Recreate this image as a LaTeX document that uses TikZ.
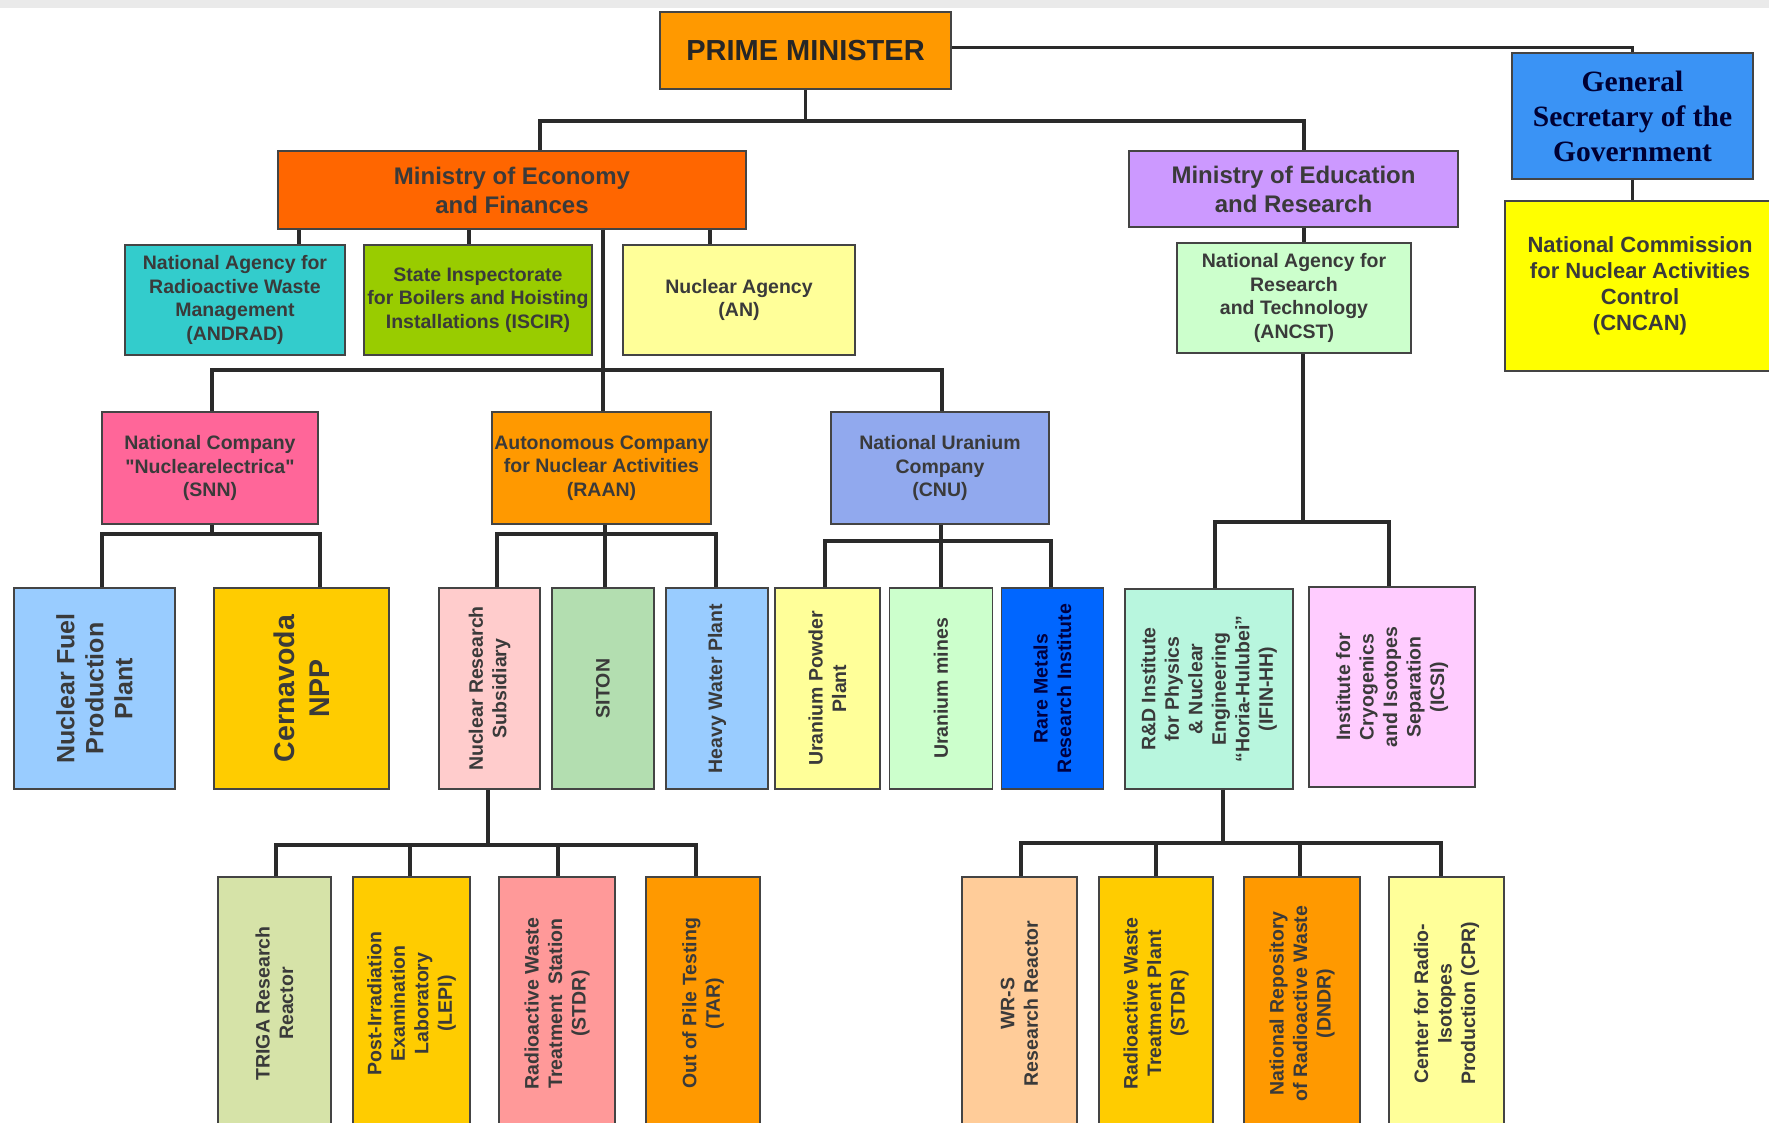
\documentclass[tikz,border=0pt]{standalone}
\usepackage{fontspec}
\setmainfont{Liberation Sans}
\newfontfamily\gsfont{Liberation Serif}
\newfontfamily\nqfont{Liberation Sans}[Ligatures=TeXOff]
\newcommand{\sq}{{\nqfont"}}
\definecolor{bordc}{HTML}{444444}
\definecolor{linec}{HTML}{2A2A2A}
\definecolor{txtc}{HTML}{3A3A3A}
\definecolor{stripc}{HTML}{EAEAEA}
\definecolor{cPM}{HTML}{FF9900}
\definecolor{cME}{HTML}{FF6600}
\definecolor{cMED}{HTML}{CC99FF}
\definecolor{cGS}{HTML}{3A93F5}
\definecolor{cCNCAN}{HTML}{FFFF00}
\definecolor{cANDRAD}{HTML}{33CCCC}
\definecolor{cISCIR}{HTML}{99CC00}
\definecolor{cAN}{HTML}{FFFF99}
\definecolor{cANCST}{HTML}{CCFFCC}
\definecolor{cSNN}{HTML}{FF6699}
\definecolor{cRAAN}{HTML}{FF9900}
\definecolor{cCNU}{HTML}{91A9EE}
\definecolor{cNFPP}{HTML}{99CCFF}
\definecolor{cCERN}{HTML}{FFCC00}
\definecolor{cNRS}{HTML}{FFCCCC}
\definecolor{cSITON}{HTML}{B3DEB0}
\definecolor{cHWP}{HTML}{99CCFF}
\definecolor{cUPP}{HTML}{FFFF99}
\definecolor{cUM}{HTML}{CCFFCC}
\definecolor{cRM}{HTML}{0066FF}
\definecolor{cIFIN}{HTML}{B8F6DE}
\definecolor{cICSI}{HTML}{FFCCFF}
\definecolor{cTRIGA}{HTML}{D6E3A8}
\definecolor{cLEPI}{HTML}{FFCC00}
\definecolor{cSTDR}{HTML}{FF9999}
\definecolor{cTAR}{HTML}{FF9900}
\definecolor{cWRS}{HTML}{FFCC99}
\definecolor{cSTDRb}{HTML}{FFCC00}
\definecolor{cDNDR}{HTML}{FF9900}
\definecolor{cCPR}{HTML}{FFFF99}
\begin{document}
\begin{tikzpicture}[x=1pt,y=-1pt,
  box/.style={draw=bordc, line width=1.6pt, inner sep=0pt, align=center, text=txtc,
    font=\bfseries\fontsize{19.5}{23.5}\selectfont},
  vbox/.style={box, rotate=90},
  conn/.style={draw=linec, line width=3.4pt, line join=miter}]
\useasboundingbox (0,0) rectangle (1769,1123);
\fill[white] (0,0) rectangle (1769,1123);
\fill[stripc] (0,0) rectangle (1769,8);

% level 0/1
\node[box, fill=cPM, minimum width=291pt, minimum height=77pt, text=black!85,
  font=\bfseries\fontsize{29}{34}\selectfont] (PM) at (805.5,50.5) {PRIME MINISTER};
\node[box, fill=cGS, minimum width=241pt, minimum height=126pt, text=black!80!blue,
  font=\gsfont\bfseries\fontsize{29.5}{35}\selectfont] (GS) at (1632.5,116) {General\\Secretary of the\\Government};
\node[box, fill=cCNCAN, minimum width=270pt, minimum height=170pt,
  font=\bfseries\fontsize{22}{26}\selectfont] (CNCAN) at (1640,286) {National Commission\\for Nuclear Activities\\Control\\(CNCAN)};
\node[box, fill=cME, minimum width=468pt, minimum height=78pt,
  font=\bfseries\fontsize{24}{29}\selectfont] (ME) at (512,190) {Ministry of Economy\\and Finances};
\node[box, fill=cMED, minimum width=329pt, minimum height=76pt,
  font=\bfseries\fontsize{24}{29}\selectfont] (MED) at (1293.5,189) {Ministry of Education\\and Research};

% level 2
\node[box, fill=cANDRAD, minimum width=220pt, minimum height=110pt] (ANDRAD) at (235,300) {National Agency for\\Radioactive Waste\\Management\\(ANDRAD)};
\node[box, fill=cISCIR, minimum width=228pt, minimum height=110pt] (ISCIR) at (478,300) {State Inspectorate\\for Boilers and Hoisting\\Installations (ISCIR)};
\node[box, fill=cAN, minimum width=232pt, minimum height=110pt] (AN) at (739,300) {Nuclear Agency\\(AN)};
\node[box, fill=cANCST, minimum width=234pt, minimum height=110pt] (ANCST) at (1294,298) {National Agency for\\Research\\and Technology\\(ANCST)};

% level 3
\node[box, fill=cSNN, minimum width=216pt, minimum height=112pt] (SNN) at (210,468) {National Company\\\sq Nuclearelectrica\sq\\(SNN)};
\node[box, fill=cRAAN, minimum width=219pt, minimum height=112pt] (RAAN) at (601.5,468) {Autonomous Company\\for Nuclear Activities\\(RAAN)};
\node[box, fill=cCNU, minimum width=218pt, minimum height=112pt] (CNU) at (940,468) {National Uranium\\Company\\(CNU)};

% level 4 (vertical text)
\node[vbox, fill=cNFPP, minimum width=201pt, minimum height=161pt,
  font=\bfseries\fontsize{25}{29}\selectfont] (NFPP) at (94.5,688.5) {Nuclear Fuel\\Production\\Plant};
\node[vbox, fill=cCERN, minimum width=201pt, minimum height=175pt,
  font=\bfseries\fontsize{28.5}{35}\selectfont] (CERN) at (301.5,688.5) {Cernavoda\\NPP};
\node[vbox, fill=cNRS, minimum width=201pt, minimum height=101pt] (NRS) at (489.5,688.5) {Nuclear Research\\Subsidiary};
\node[vbox, fill=cSITON, minimum width=201pt, minimum height=102pt] (SITON) at (603,688.5) {SITON};
\node[vbox, fill=cHWP, minimum width=201pt, minimum height=102pt] (HWP) at (717,688.5) {Heavy Water Plant};
\node[vbox, fill=cUPP, minimum width=201pt, minimum height=105pt] (UPP) at (827.5,688.5) {Uranium Powder\\Plant};
\node[vbox, fill=cUM, minimum width=201pt, minimum height=103pt] (UM) at (941,688.5) {Uranium mines};
\node[vbox, fill=cRM, minimum width=201pt, minimum height=102pt, text=black!75!blue] (RM) at (1052.5,688.5) {Rare Metals\\Research Institute};
\node[vbox, fill=cIFIN, minimum width=200pt, minimum height=168pt] (IFIN) at (1209,689) {R\&D Institute\\for Physics\\\& Nuclear\\Engineering\\``Horia-Hulubei''\\(IFIN-HH)};
\node[vbox, fill=cICSI, minimum width=200pt, minimum height=166pt] (ICSI) at (1392,687) {Institute for\\Cryogenics\\and Isotopes\\Separation\\(ICSI)};

% level 5
\node[vbox, fill=cTRIGA, minimum width=253pt, minimum height=113pt] (TRIGA) at (274.5,1003.5) {TRIGA Research\\Reactor};
\node[vbox, fill=cLEPI, minimum width=253pt, minimum height=117pt] (LEPI) at (411.5,1003.5) {Post-Irradiation\\Examination\\Laboratory\\(LEPI)};
\node[vbox, fill=cSTDR, minimum width=253pt, minimum height=116pt] (STDR) at (557,1003.5) {Radioactive Waste\\Treatment\ \ Station\\(STDR)};
\node[vbox, fill=cTAR, minimum width=253pt, minimum height=114pt] (TAR) at (703,1003.5) {Out of Pile Testing\\(TAR)};
\node[vbox, fill=cWRS, minimum width=253pt, minimum height=115pt] (WRS) at (1019.5,1003.5) {WR-S\\Research Reactor};
\node[vbox, fill=cSTDRb, minimum width=253pt, minimum height=114pt] (STDRb) at (1156,1003.5) {Radioactive Waste\\Treatment Plant\\(STDR)};
\node[vbox, fill=cDNDR, minimum width=253pt, minimum height=116pt] (DNDR) at (1302,1003.5) {National Repository\\of Radioactive Waste\\(DNDR)};
\node[vbox, fill=cCPR, minimum width=253pt, minimum height=115pt] (CPR) at (1446.5,1003.5) {Center for Radio-\\Isotopes\\Production (CPR)};

% bus coordinates
\coordinate (busL) at (540,121);
\coordinate (busR) at (1304,121);
\coordinate (k1) at (299,237);
\coordinate (k2) at (469,237);
\coordinate (k3) at (710,237);
\coordinate (t1) at (603,370);
\coordinate (r3L) at (212,370);
\coordinate (r3R) at (942,370);
\coordinate (sT) at (212,534);
\coordinate (sL) at (102,534);
\coordinate (sR) at (320,534);
\coordinate (rT) at (605,534);
\coordinate (rL) at (497,534);
\coordinate (rR) at (716,534);
\coordinate (cT) at (941,541);
\coordinate (cL) at (825,541);
\coordinate (cR) at (1051,541);
\coordinate (aT) at (1303,522);
\coordinate (aL) at (1215,522);
\coordinate (aR) at (1389,522);
\coordinate (nT) at (488,845);
\coordinate (nL) at (276,845);
\coordinate (nR) at (696,845);
\coordinate (n2) at (410,845);
\coordinate (n3) at (558,845);
\coordinate (fT) at (1223,843);
\coordinate (fL) at (1021,843);
\coordinate (fR) at (1441,843);
\coordinate (f2) at (1156,843);
\coordinate (f3) at (1300,843);

% connectors
\draw[conn] (PM.south) -- (PM.south |- busL);
\draw[conn] (ME.north -| busL) -- (busL) -- (busR) -- (MED.north -| busR);
\draw[conn] ([yshift=3pt]PM.east) -| (GS.north);
\draw[conn] (GS.south) -- (GS.south |- CNCAN.north);
\draw[conn] (MED.south -| busR) -- (ANCST.north -| busR);
\draw[conn] (ME.south -| k1) -- (ANDRAD.north -| k1);
\draw[conn] (ME.south -| k2) -- (ISCIR.north -| k2);
\draw[conn] (ME.south -| k3) -- (AN.north -| k3);
\draw[conn] (ME.south -| t1) -- (RAAN.north -| t1);
\draw[conn] (SNN.north -| r3L) -- (r3L) -- (r3R) -- (CNU.north -| r3R);
\draw[conn] (SNN.south -| sT) -- (sT);
\draw[conn] (NFPP.east -| sL) -- (sL) -- (sR) -- (CERN.east -| sR);
\draw[conn] (RAAN.south -| rT) -- (SITON.east -| rT);
\draw[conn] (NRS.east -| rL) -- (rL) -- (rR) -- (HWP.east -| rR);
\draw[conn] (CNU.south -| cT) -- (UM.east -| cT);
\draw[conn] (UPP.east -| cL) -- (cL) -- (cR) -- (RM.east -| cR);
\draw[conn] (ANCST.south -| aT) -- (aT);
\draw[conn] (IFIN.east -| aL) -- (aL) -- (aR) -- (ICSI.east -| aR);
\draw[conn] (NRS.west -| nT) -- (nT);
\draw[conn] (TRIGA.east -| nL) -- (nL) -- (nR) -- (TAR.east -| nR);
\draw[conn] (n2) -- (LEPI.east -| n2);
\draw[conn] (n3) -- (STDR.east -| n3);
\draw[conn] (IFIN.west -| fT) -- (fT);
\draw[conn] (WRS.east -| fL) -- (fL) -- (fR) -- (CPR.east -| fR);
\draw[conn] (f2) -- (STDRb.east -| f2);
\draw[conn] (f3) -- (DNDR.east -| f3);
\end{tikzpicture}
\end{document}
